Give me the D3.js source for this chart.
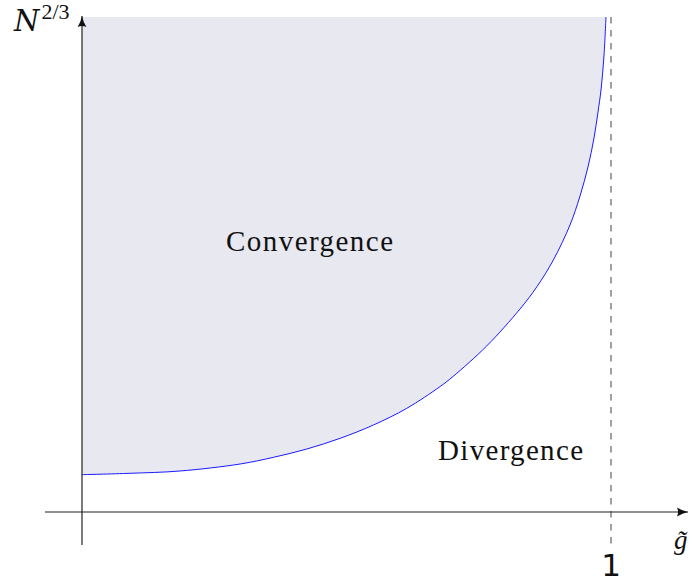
<!DOCTYPE html>
<html>
<head>
<meta charset="utf-8">
<script src="https://cdn.jsdelivr.net/npm/d3@7/dist/d3.min.js"></script>
<style>
  html, body { margin: 0; padding: 0; background: #fff; }
  svg { display: block; }
</style>
</head>
<body>
<svg id="chart" width="690" height="583"></svg>
<script>
// Boundary curve: coupling g̃ against N^{2/3} (arbitrary units)
const gValues = [0, 0.091, 0.185, 0.299, 0.362, 0.425, 0.488, 0.551, 0.614, 0.677, 0.702, 0.765, 0.828, 0.860, 0.891, 0.9225, 0.9414, 0.9565, 0.9679, 0.9754, 0.9811, 0.9868, 0.9905];
const nValues = [0.754, 0.782, 0.828, 0.970, 1.105, 1.273, 1.489, 1.758, 2.095, 2.535, 2.743, 3.354, 4.101, 4.552, 5.091, 5.798, 6.384, 6.970, 7.556, 8.081, 8.525, 9.232, 10];
const criticalG = [1];
const regionLabels = ["Convergence", "Divergence"];

const svg = d3.select("#chart");

const x = d3.scaleLinear().domain([0, 1]).range([82, 611]);
const y = d3.scaleLinear().domain([0, 10]).range([512, 17]);

const boundary = gValues.map((g, i) => ({ g, n: nValues[i] }));
const smooth = d3.curveCatmullRom.alpha(0.5);

// Shaded convergence region above the curve
const area = d3.area()
  .x(d => x(d.g))
  .y0(y(10))
  .y1(d => y(d.n))
  .curve(smooth);

svg.append("path")
  .datum(boundary)
  .attr("d", area)
  .attr("fill", "#e8e8f1");

// Boundary curve
svg.append("path")
  .datum(boundary)
  .attr("d", d3.line().x(d => x(d.g)).y(d => y(d.n)).curve(smooth))
  .attr("fill", "none")
  .attr("stroke", "#1a1aff")
  .attr("stroke-width", 1);

// Dashed asymptote at g̃ = 1
svg.append("line")
  .attr("x1", x(criticalG[0])).attr("x2", x(criticalG[0]))
  .attr("y1", y(10)).attr("y2", 545)
  .attr("stroke", "#6e6e6e")
  .attr("stroke-width", 1.3)
  .attr("stroke-dasharray", "6.5,6.5");

// Axes with arrow heads
const defs = svg.append("defs");
defs.append("marker")
  .attr("id", "arrow")
  .attr("viewBox", "0 0 10 10")
  .attr("refX", 10).attr("refY", 5)
  .attr("markerWidth", 11).attr("markerHeight", 11)
  .attr("markerUnits", "userSpaceOnUse")
  .attr("orient", "auto")
  .append("path")
  .attr("d", "M0,1 Q5,4 10,5 Q5,6 0,9 Q2,5 0,1Z")
  .attr("fill", "#111");

svg.append("line")
  .attr("x1", 45).attr("y1", y(0)).attr("x2", 688).attr("y2", y(0))
  .attr("stroke", "#222").attr("stroke-width", 1.2)
  .attr("marker-end", "url(#arrow)");

svg.append("line")
  .attr("x1", x(0)).attr("y1", 545).attr("x2", x(0)).attr("y2", 16)
  .attr("stroke", "#222").attr("stroke-width", 1.2)
  .attr("marker-end", "url(#arrow)");

// Tick label at g̃ = 1
svg.append("text")
  .attr("x", x(criticalG[0])).attr("y", 576)
  .attr("text-anchor", "middle")
  .attr("font-family", "DejaVu Sans")
  .attr("font-size", 31)
  .attr("fill", "#111")
  .text("1");

// Axis titles
const yTitle = svg.append("text")
  .attr("x", 14).attr("y", 31)
  .attr("font-family", "DejaVu Serif")
  .attr("fill", "#111");
yTitle.append("tspan")
  .attr("font-style", "italic")
  .attr("font-size", 29)
  .text("N");
yTitle.append("tspan")
  .attr("font-family", "Liberation Serif")
  .attr("font-size", 22)
  .attr("dx", 2)
  .attr("dy", -12)
  .text("2/3");

svg.append("text")
  .attr("x", 674).attr("y", 549)
  .attr("font-family", "Liberation Serif")
  .attr("font-style", "italic")
  .attr("font-size", 27)
  .attr("fill", "#111")
  .text("g\u0303");

// Region labels
svg.append("text")
  .attr("x", 226).attr("y", 251)
  .attr("font-family", "Liberation Serif")
  .attr("font-size", 29)
  .attr("textLength", 167)
  .attr("lengthAdjust", "spacing")
  .attr("fill", "#111")
  .text(regionLabels[0]);

svg.append("text")
  .attr("x", 438).attr("y", 460)
  .attr("font-family", "Liberation Serif")
  .attr("font-size", 29)
  .attr("textLength", 145)
  .attr("lengthAdjust", "spacing")
  .attr("fill", "#111")
  .text(regionLabels[1]);
</script>
</body>
</html>
